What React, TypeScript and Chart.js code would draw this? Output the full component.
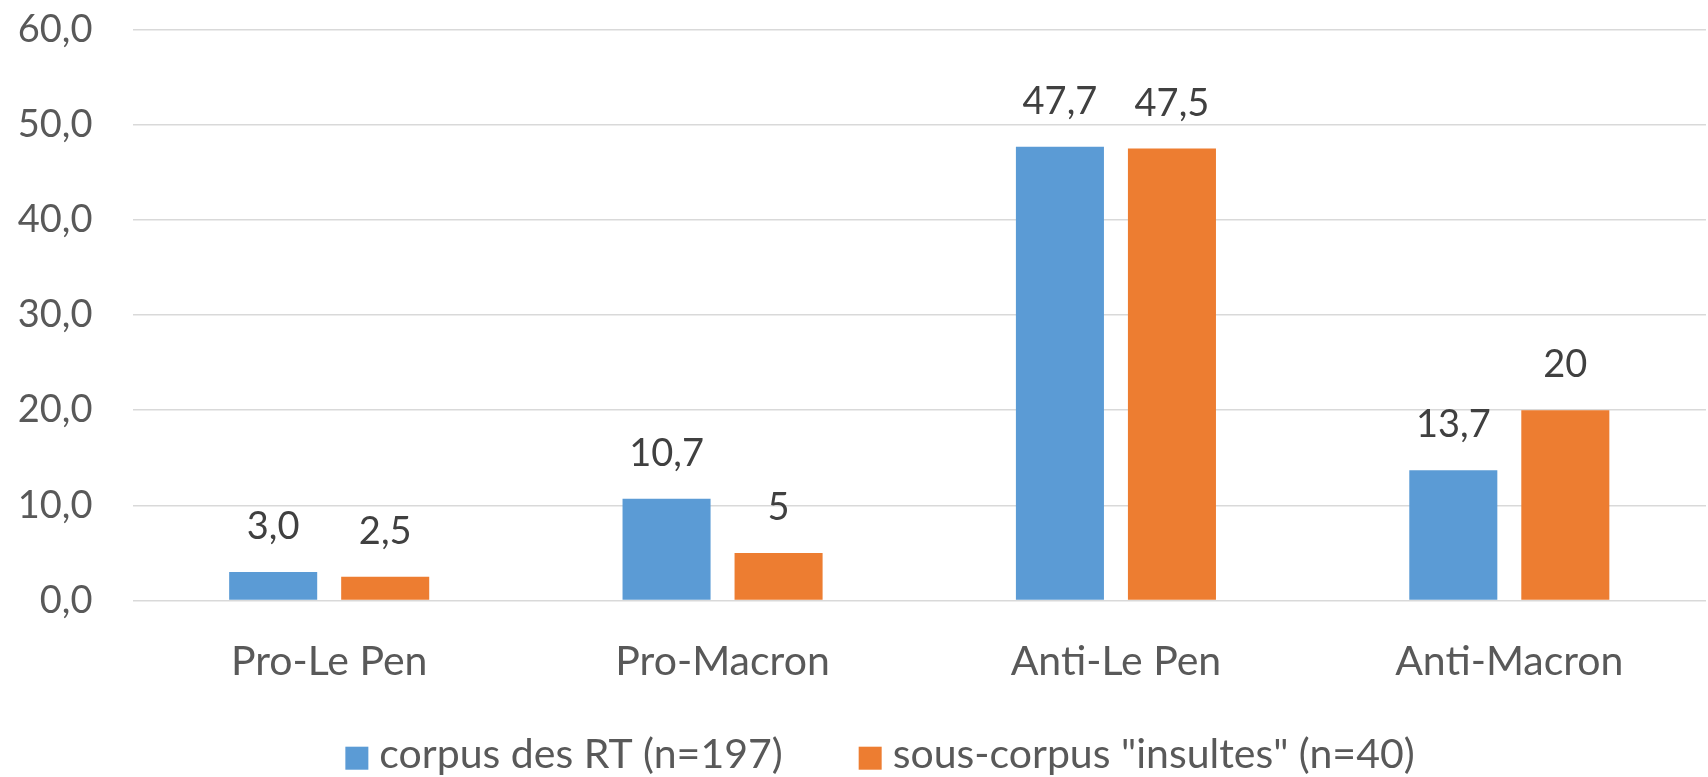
import { useEffect, useRef } from "react";
import { Chart, registerables } from "chart.js";

Chart.register(...registerables);

const categories = ["Pro-Le Pen", "Pro-Macron", "Anti-Le Pen", "Anti-Macron"];
const seriesNames = ["corpus des RT (n=197)", 'sous-corpus "insultes" (n=40)'];
const corpusRT = [3.0, 10.7, 47.7, 13.7];
const sousCorpus = [2.5, 5, 47.5, 20];
const corpusRTLabels = ["3,0", "10,7", "47,7", "13,7"];
const sousCorpusLabels = ["2,5", "5", "47,5", "20"];
const yMin = 0;
const yMax = 60;
const yStep = 10;

const FONT = "Lato";
const COLORS = ["#5B9BD5", "#ED7D31"];

const valueLabelsPlugin = {
  id: "valueLabels",
  afterDatasetsDraw(chart: any) {
    const ctx = chart.ctx;
    ctx.save();
    ctx.font = `38px ${FONT}`;
    ctx.fillStyle = "#404040";
    ctx.textAlign = "center";
    ctx.textBaseline = "alphabetic";
    chart.data.datasets.forEach((ds: any, i: number) => {
      const meta = chart.getDatasetMeta(i);
      meta.data.forEach((bar: any, j: number) => {
        ctx.fillText(ds.valueLabels[j], bar.x, bar.y - 33);
      });
    });
    ctx.restore();
  },
};

// Legend drawn on the chart canvas from the datasets (Excel-style spacing)
const bottomLegendPlugin = {
  id: "bottomLegend",
  afterDraw(chart: any) {
    const ctx = chart.ctx;
    const box = 23;
    const textGap = 11;
    const itemGap = 76;
    const centerX = 880;
    const baseline = 768;
    ctx.save();
    ctx.font = `41px ${FONT}`;
    ctx.textBaseline = "alphabetic";
    ctx.textAlign = "left";
    const items = chart.data.datasets.map((ds: any) => ({
      text: ds.label as string,
      color: ds.backgroundColor as string,
      w: ctx.measureText(ds.label).width,
    }));
    const total =
      items.reduce((s: number, it: any) => s + box + textGap + it.w, 0) + itemGap * (items.length - 1);
    let x = centerX - total / 2;
    items.forEach((it: any) => {
      ctx.fillStyle = it.color;
      ctx.fillRect(x, baseline - 21.3, box, box);
      ctx.fillStyle = "#595959";
      ctx.fillText(it.text, x + box + textGap, baseline);
      x += box + textGap + it.w + itemGap;
    });
    ctx.restore();
  },
};

export default function App() {
  const canvasRef = useRef<HTMLCanvasElement | null>(null);

  useEffect(() => {
    if (!canvasRef.current) return;
    const chart = new Chart(canvasRef.current, {
      type: "bar",
      data: {
        labels: categories,
        datasets: [
          {
            label: seriesNames[0],
            data: corpusRT,
            backgroundColor: COLORS[0],
            borderWidth: 0,
            barPercentage: 0.786,
            categoryPercentage: 0.5695,
            valueLabels: corpusRTLabels,
          } as any,
          {
            label: seriesNames[1],
            data: sousCorpus,
            backgroundColor: COLORS[1],
            borderWidth: 0,
            barPercentage: 0.786,
            categoryPercentage: 0.5695,
            valueLabels: sousCorpusLabels,
          } as any,
        ],
      },
      options: {
        animation: false,
        responsive: true,
        maintainAspectRatio: false,
        layout: { padding: { top: 29.7, right: 2, left: 0, bottom: 61.3 } },
        plugins: {
          tooltip: { enabled: false },
          legend: { display: false },
        },
        scales: {
          x: {
            grid: { display: false },
            border: { display: false },
            ticks: {
              color: "#595959",
              font: { family: FONT, size: 41 },
              padding: 29,
              maxRotation: 0,
            },
          },
          y: {
            min: yMin,
            max: yMax,
            border: { display: false },
            grid: {
              color: "#d9d9d9",
              lineWidth: 1.5,
              drawTicks: true,
              tickLength: 40,
              tickColor: "rgba(0,0,0,0)",
            },
            ticks: {
              stepSize: yStep,
              color: "#595959",
              font: { family: FONT, size: 38 },
              padding: 0,
              callback: (v: any) => Number(v).toFixed(1).replace(".", ","),
            },
            afterFit: (scale: any) => {
              scale.width = 132.5;
            },
          },
        },
      },
      plugins: [valueLabelsPlugin, bottomLegendPlugin],
    });
    return () => chart.destroy();
  }, []);

  return (
    <div style={{ position: "absolute", left: 0, top: 0, width: 1708, height: 777, background: "#fff" }}>
      <canvas ref={canvasRef} />
    </div>
  );
}
